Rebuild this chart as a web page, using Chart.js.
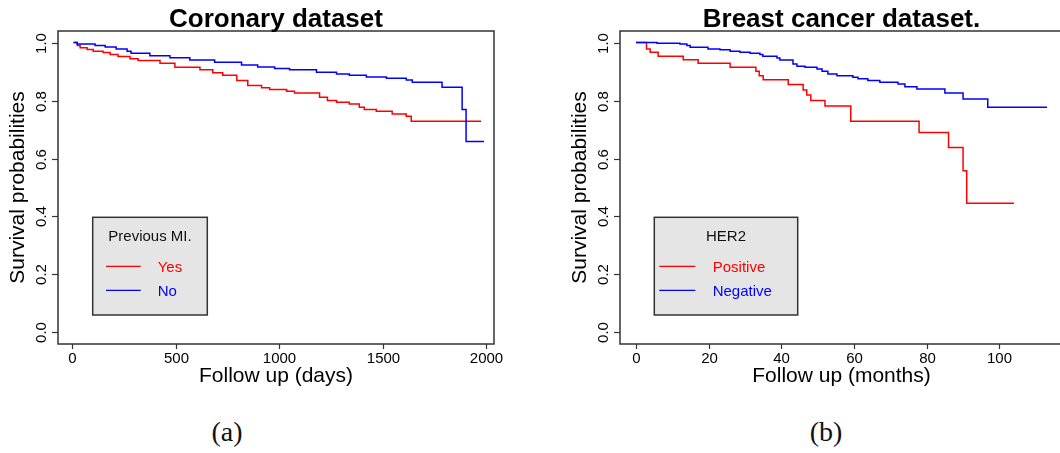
<!DOCTYPE html>
<html>
<head>
<meta charset="utf-8">
<script src="https://cdn.jsdelivr.net/npm/chart.js@4.4.1/dist/chart.umd.min.js"></script>
<style>
  html, body { margin: 0; padding: 0; background: #fff; overflow: hidden; width: 1060px; height: 453px; }
  .panel { position: absolute; top: 0; }
  #wrapA { left: 0; }
  #wrapB { left: 562px; }
  .cap { position: absolute; top: 418px; line-height: 28px; font-family: "Liberation Serif", "DejaVu Serif", serif; font-size: 28px; color: #111; transform: translateX(-50%); white-space: nowrap; }
</style>
</head>
<body>
<div class="panel" id="wrapA"><canvas id="coronary" width="530" height="400"></canvas></div>
<div class="panel" id="wrapB"><canvas id="breast" width="537" height="400"></canvas></div>
<div class="cap" style="left:227px">(a)</div>
<div class="cap" style="left:826px">(b)</div>
<script>
// Kaplan-Meier estimates: event times and survival after each step

// Coronary dataset, grouped by previous myocardial infarction
const coronaryYesDays = [5, 23, 37, 71, 100, 148, 182, 220, 278, 317, 423, 495, 616, 678, 726, 794, 847, 914, 953, 1035, 1073, 1194, 1232, 1276, 1338, 1386, 1410, 1468, 1545, 1613, 1637, 1975];
const coronaryYesSurv = [1.0, 0.990, 0.982, 0.976, 0.970, 0.966, 0.959, 0.952, 0.944, 0.938, 0.929, 0.915, 0.906, 0.896, 0.887, 0.869, 0.852, 0.844, 0.838, 0.832, 0.826, 0.811, 0.800, 0.794, 0.788, 0.777, 0.769, 0.763, 0.754, 0.746, 0.729, 0.729];
const coronaryNoDays = [5, 23, 109, 158, 211, 264, 283, 374, 471, 567, 687, 817, 895, 977, 1049, 1179, 1276, 1338, 1420, 1517, 1613, 1642, 1786, 1883, 1902, 1989];
const coronaryNoSurv = [1.0, 0.995, 0.990, 0.985, 0.978, 0.970, 0.963, 0.955, 0.948, 0.940, 0.932, 0.923, 0.916, 0.911, 0.906, 0.898, 0.892, 0.887, 0.881, 0.877, 0.871, 0.863, 0.846, 0.769, 0.659, 0.659];

// Breast cancer dataset, grouped by HER2 status
const her2PosMonths = [0, 2.9, 3.9, 6.1, 13.0, 17.1, 25.9, 33.0, 33.9, 35.0, 41.9, 46.0, 47.0, 48.1, 52.0, 59.1, 77.9, 86.0, 90.0, 91.0, 104.0];
const her2PosSurv = [1.0, 0.978, 0.967, 0.953, 0.941, 0.929, 0.915, 0.901, 0.886, 0.872, 0.855, 0.836, 0.819, 0.800, 0.781, 0.729, 0.690, 0.638, 0.558, 0.446, 0.446];
const her2NegMonths = [0, 5.8, 12.1, 14.0, 14.9, 19.8, 23.1, 25.9, 28.6, 31.4, 34.1, 34.9, 38.8, 39.6, 43.2, 44.3, 46.5, 49.8, 51.2, 52.8, 55.3, 59.7, 61.1, 63.8, 67.1, 72.1, 74.0, 77.3, 85.0, 90.0, 96.8, 113.1];
const her2NegSurv = [1.0, 0.998, 0.995, 0.990, 0.984, 0.978, 0.975, 0.970, 0.967, 0.963, 0.959, 0.953, 0.947, 0.940, 0.926, 0.918, 0.915, 0.909, 0.901, 0.892, 0.886, 0.880, 0.875, 0.869, 0.863, 0.857, 0.848, 0.840, 0.826, 0.805, 0.777, 0.777];

// Axis ticks
const yTickValues = [0, 0.2, 0.4, 0.6, 0.8, 1.0];
const yTickLabels = ['0.0', '0.2', '0.4', '0.6', '0.8', '1.0'];
const coronaryXTicks = [0, 500, 1000, 1500, 2000];
const breastXTicks = [0, 20, 40, 60, 80, 100];

const SANS = '"Liberation Sans", Arial, Helvetica, sans-serif';
const RED = '#ff0000';
const BLUE = '#0000ff';

function toPoints(xs, ys) {
  return xs.map((x, i) => ({ x: x, y: ys[i] }));
}

// R-style frame, ticks, labels, title and boxed legend
const survivalDecor = {
  id: 'survivalDecor',
  afterDraw(chart, args, o) {
    const ctx = chart.ctx;
    const a = chart.chartArea;
    const xs = chart.scales.x, ys = chart.scales.y;
    ctx.save();

    // frame
    ctx.strokeStyle = '#333';
    ctx.lineWidth = 1.5;
    ctx.strokeRect(a.left, a.top, a.right - a.left, a.bottom - a.top);

    // x ticks
    ctx.fillStyle = '#000';
    ctx.font = '15px ' + SANS;
    ctx.textAlign = 'center';
    ctx.textBaseline = 'alphabetic';
    ctx.lineWidth = 1.2;
    o.xTicks.forEach(v => {
      const px = Math.round(xs.getPixelForValue(v)) + 0.5;
      ctx.beginPath();
      ctx.moveTo(px, a.bottom);
      ctx.lineTo(px, a.bottom + 5);
      ctx.stroke();
      ctx.fillText(String(v), px, a.bottom + 19);
    });

    // y ticks, labels parallel to the axis
    yTickValues.forEach((v, i) => {
      const py = Math.round(ys.getPixelForValue(v)) + 0.5;
      ctx.beginPath();
      ctx.moveTo(a.left - 6, py);
      ctx.lineTo(a.left, py);
      ctx.stroke();
      ctx.save();
      ctx.translate(a.left - 12, py);
      ctx.rotate(-Math.PI / 2);
      ctx.fillText(yTickLabels[i], 0, 0);
      ctx.restore();
    });

    const cx = (a.left + a.right) / 2;
    const cy = (a.top + a.bottom) / 2;

    // axis titles
    ctx.font = '21px ' + SANS;
    ctx.fillText(o.xTitle, cx, a.bottom + 37.5);
    ctx.save();
    ctx.translate(a.left - 34.4, cy);
    ctx.rotate(-Math.PI / 2);
    ctx.fillText(o.yTitle, 0, 0);
    ctx.restore();

    // main title
    ctx.font = 'bold 26px ' + SANS;
    ctx.fillText(o.title, cx, 27);

    // legend
    const L = o.legend;
    const bx = a.left + L.left, by = a.top + L.top;
    ctx.fillStyle = '#e5e5e5';
    ctx.fillRect(bx, by, L.width, L.height);
    ctx.strokeStyle = '#333';
    ctx.lineWidth = 1.5;
    ctx.strokeRect(bx, by, L.width, L.height);
    ctx.font = '15px ' + SANS;
    ctx.fillStyle = '#111';
    ctx.textAlign = 'center';
    ctx.fillText(L.title, bx + L.width / 2, by + 24);
    ctx.textAlign = 'left';
    chart.data.datasets.forEach((ds, i) => {
      const ly = by + 49 + i * 24;
      ctx.strokeStyle = ds.borderColor;
      ctx.lineWidth = 1.3;
      ctx.beginPath();
      ctx.moveTo(bx + L.lineStart, ly);
      ctx.lineTo(bx + L.lineEnd, ly);
      ctx.stroke();
      ctx.fillStyle = ds.borderColor;
      ctx.fillText(ds.label, bx + L.textStart, ly + 5.5);
    });

    ctx.restore();
  }
};

function makeChart(id, cfg) {
  return new Chart(document.getElementById(id), {
    type: 'line',
    data: {
      datasets: cfg.series.map((s, i) => ({
        label: s.label,
        data: toPoints(s.x, s.y),
        borderColor: s.color,
        backgroundColor: s.color,
        borderWidth: 1.5,
        pointRadius: 0,
        stepped: 'before',
        fill: false,
        order: s.order
      }))
    },
    options: {
      responsive: false,
      animation: false,
      events: [],
      layout: { padding: { left: 58, top: 31, right: 36, bottom: 56 } },
      scales: {
        x: { type: 'linear', display: false, min: cfg.xMin, max: cfg.xMax },
        y: { type: 'linear', display: false, min: -0.04, max: 1.04 }
      },
      plugins: {
        legend: { display: false },
        tooltip: { enabled: false },
        title: { display: false },
        survivalDecor: {
          title: cfg.title,
          xTitle: cfg.xTitle,
          yTitle: 'Survival probabilities',
          xTicks: cfg.xTicks,
          legend: cfg.legend
        }
      }
    },
    plugins: [survivalDecor]
  });
}

makeChart('coronary', {
  title: 'Coronary dataset',
  xTitle: 'Follow up (days)',
  xTicks: coronaryXTicks,
  xMin: -70, xMax: 2037,
  series: [
    { label: 'Yes', x: coronaryYesDays, y: coronaryYesSurv, color: RED, order: 1 },
    { label: 'No', x: coronaryNoDays, y: coronaryNoSurv, color: BLUE, order: 0 }
  ],
  legend: { title: 'Previous MI.', left: 34.7, top: 186.3, width: 114.6, height: 97.7, lineStart: 13.3, lineEnd: 48, textStart: 65 }
});

makeChart('breast', {
  title: 'Breast cancer dataset.',
  xTitle: 'Follow up (months)',
  xTicks: breastXTicks,
  xMin: -4.4, xMax: 117.5,
  series: [
    { label: 'Positive', x: her2PosMonths, y: her2PosSurv, color: RED, order: 1 },
    { label: 'Negative', x: her2NegMonths, y: her2NegSurv, color: BLUE, order: 0 }
  ],
  legend: { title: 'HER2', left: 34.3, top: 186.3, width: 143.4, height: 97.7, lineStart: 5, lineEnd: 41, textStart: 58.4 }
});
</script>
</body>
</html>
